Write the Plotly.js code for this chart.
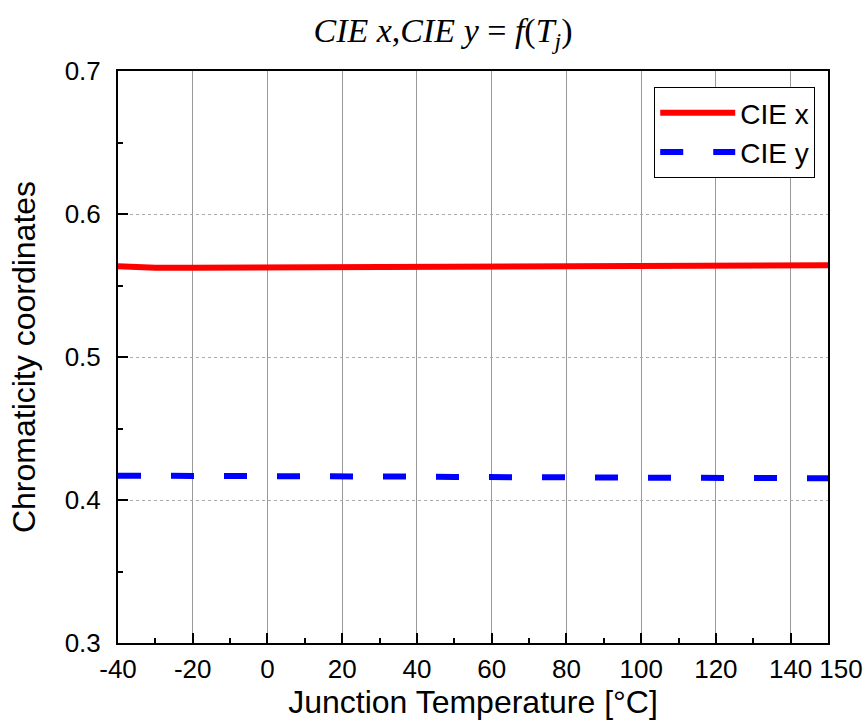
<!DOCTYPE html>
<html><head><meta charset="utf-8">
<script src="https://cdn.plot.ly/plotly-3.0.1.min.js"></script>
<style>body{margin:0;padding:0;background:#fff}</style>
</head><body>
<div id="chart" style="width:867px;height:724px"></div>
<script>
var tempX = [-40, -30, -20, -10, 0, 10, 20, 35, 50, 60, 70, 85, 100, 115, 130, 150];
var cieX  = [0.5635, 0.5624, 0.5624, 0.5625, 0.5625, 0.5626, 0.5630, 0.5638, 0.5639, 0.5640, 0.5640, 0.5643, 0.5640, 0.5641, 0.5642, 0.5642];
var cieY  = [0.4170, 0.4170, 0.4171, 0.4172, 0.4172, 0.4172, 0.4170, 0.4164, 0.4161, 0.4160, 0.4158, 0.4157, 0.4155, 0.4154, 0.4153, 0.4152];
var xTickVals = [-40, -20, 0, 20, 40, 60, 80, 100, 120, 140];
var xTickText = ['-40', '-20', '0', '20', '40', '60', '80', '100', '120', '140'];
var xEndTickVals = [150];
var xEndTickText = ['150'];
var yTickVals = [0.3, 0.4, 0.5, 0.6, 0.7];
var yTickText = ['0.3', '0.4', '0.5', '0.6', '0.7'];

var traces = [
  {x: tempX, y: cieX, name: 'CIE x', mode: 'lines', line: {color: '#ff0000', width: 6}},
  {x: tempX, y: cieY, name: 'CIE y', mode: 'lines', line: {color: '#0000ff', width: 6, dash: '23px,30px'}},
  {x: tempX, y: cieX, xaxis: 'x2', yaxis: 'y', mode: 'lines', line: {color: 'rgba(0,0,0,0)', width: 0},
   opacity: 0, showlegend: false, hoverinfo: 'skip'}
];
var tickFont = {family: 'Arial, Liberation Sans, sans-serif', size: 26, color: '#000'};
var layout = {
  width: 867, height: 724,
  margin: {l: 118, r: 39, t: 71, b: 81},
  paper_bgcolor: '#fff', plot_bgcolor: '#fff',
  font: {family: 'Arial, Liberation Sans, sans-serif', color: '#000'},
  title: {
    text: '<i>CIE x</i>,<i>CIE y</i> = <i>f</i>(<i>T</i><sub><i>j</i></sub>)',
    font: {family: 'Liberation Serif, Times New Roman, serif', size: 34, color: '#000'},
    x: 0.511, xanchor: 'center', y: 0.958, yanchor: 'middle'
  },
  xaxis: {
    range: [-40, 150], tickmode: 'array', tickvals: xTickVals, ticktext: xTickText,
    tickangle: 0,
    ticks: 'inside', ticklen: 10, tickwidth: 2, tickcolor: '#000',
    showline: true, linewidth: 2, linecolor: '#000', mirror: true,
    showgrid: true, gridcolor: '#999', gridwidth: 1,
    zeroline: false, tickfont: tickFont, ticklabelstandoff: 2,
    minor: {dtick: 10, tick0: 0, ticks: 'inside', ticklen: 5, tickwidth: 2, tickcolor: '#000', showgrid: false},
    title: {text: 'Junction Temperature [°C]', font: {size: 32}, standoff: 0}
  },
  xaxis2: {
    range: [-40, 150], overlaying: 'x', anchor: 'y', side: 'bottom',
    tickmode: 'array', tickvals: xEndTickVals, ticktext: xEndTickText,
    tickangle: 0, ticks: '', showline: false, showgrid: false, zeroline: false,
    tickfont: tickFont, ticklabelstandoff: 8, ticklabelshift: 13
  },
  yaxis: {
    range: [0.3, 0.7], tickmode: 'array', tickvals: yTickVals, ticktext: yTickText,
    ticks: 'inside', ticklen: 10, tickwidth: 2, tickcolor: '#000',
    showline: true, linewidth: 2, linecolor: '#000', mirror: true,
    showgrid: true, gridcolor: '#aaa', gridwidth: 1, griddash: 'dot',
    zeroline: false, tickfont: tickFont, ticklabelstandoff: 10,
    minor: {dtick: 0.05, tick0: 0.3, ticks: 'inside', ticklen: 5, tickwidth: 2, tickcolor: '#000', showgrid: false},
    title: {text: 'Chromaticity coordinates', font: {size: 32}, standoff: 19}
  },
  legend: {
    x: 0.982, xanchor: 'right', y: 0.972, yanchor: 'top',
    bgcolor: '#fff', bordercolor: '#000', borderwidth: 1,
    font: {size: 28}, itemwidth: 75, tracegroupgap: 0
  },
  showlegend: true
};
Plotly.newPlot('chart', traces, layout, {displayModeBar: false, staticPlot: true});
</script>
</body></html>
